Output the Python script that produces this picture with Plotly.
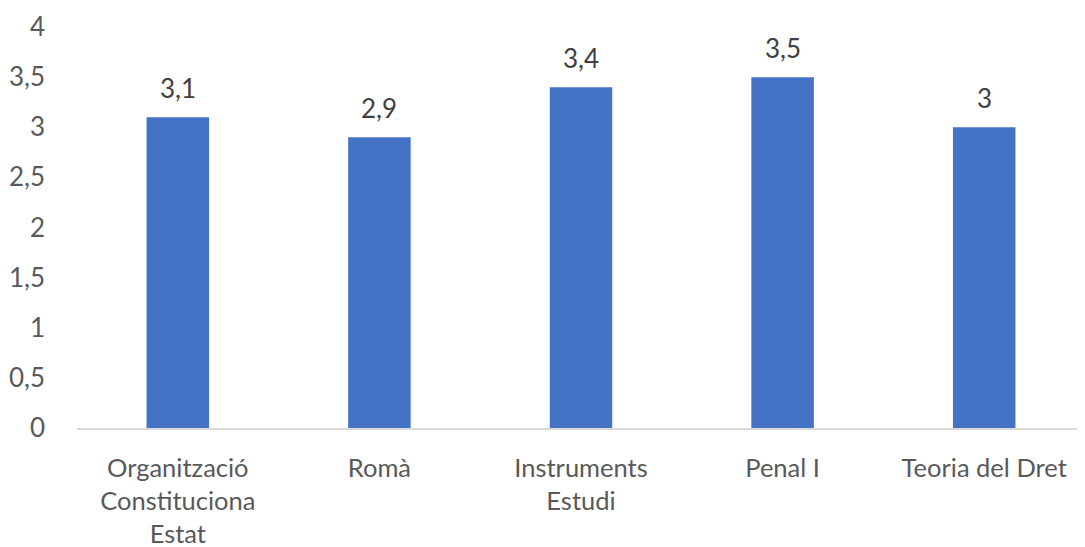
import plotly.graph_objects as go

categories = ["Organització<br>Constituciona<br>Estat", "Romà", "Instruments<br>Estudi", "Penal I", "Teoria del Dret"]
values = [3.1, 2.9, 3.4, 3.5, 3.0]
value_labels = ["3,1", "2,9", "3,4", "3,5", "3"]
y_ticks = [0, 0.5, 1, 1.5, 2, 2.5, 3, 3.5, 4]
y_tick_text = ["0", "0,5", "1", "1,5", "2", "2,5", "3", "3,5", "4"]

FONT = "Lato"

fig = go.Figure(go.Bar(
    x=categories, y=values,
    marker=dict(color="#4472C4", line=dict(width=0)),
    cliponaxis=False,
))

for c, v, t in zip(categories, values, value_labels):
    fig.add_annotation(x=c, y=v, text=t, showarrow=False, yanchor="middle",
                       yshift=29, font=dict(family=FONT, size=26, color="#404040"))

fig.update_layout(
    width=1077, height=539,
    margin=dict(l=69, r=0, t=19, b=119),
    plot_bgcolor="white", paper_bgcolor="white",
    bargap=0.69,
    separators=",.",
    showlegend=False,
    font=dict(family=FONT, size=26, color="#595959"),
)
fig.update_yaxes(
    range=[0, 4], tickvals=y_ticks, ticktext=y_tick_text,
    showgrid=False, zeroline=False, showline=False, automargin=False,
    ticks="", ticklabelstandoff=31,
    tickfont=dict(family=FONT, size=26, color="#595959"),
)
fig.update_xaxes(
    showgrid=False, showline=True, linecolor="#D9D9D9", linewidth=2, automargin=False,
    ticks="", tickangle=0, ticklabelstandoff=16,
    tickfont=dict(family=FONT, size=25.5, color="#595959"),
)

fig.write_html("out.html")
